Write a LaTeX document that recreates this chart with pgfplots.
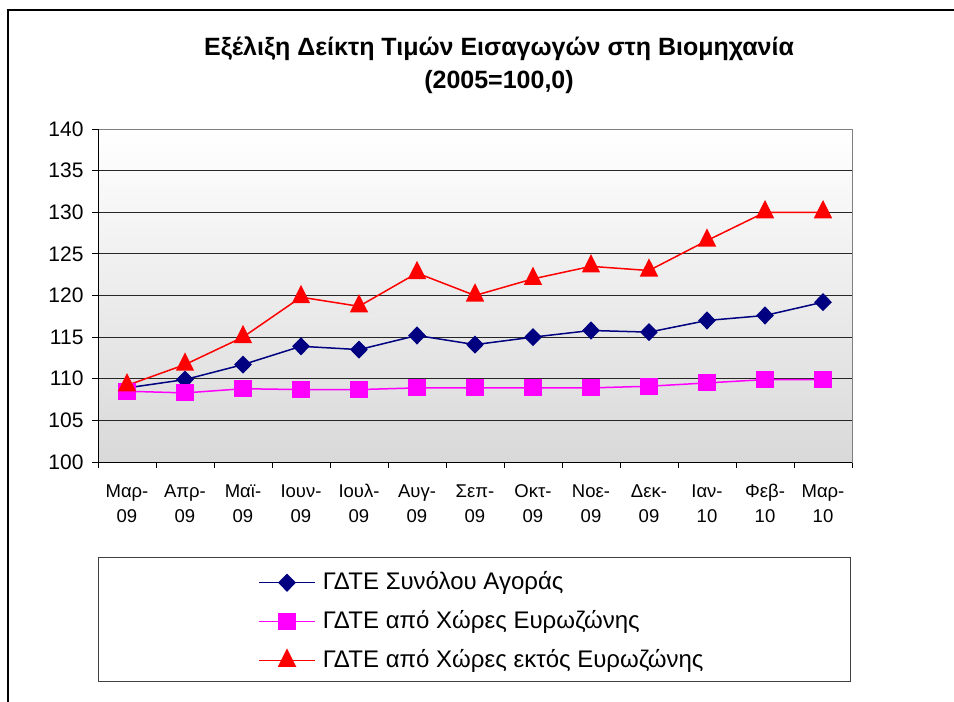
\documentclass[border=0pt]{standalone}
\usepackage{fontspec}
\setmainfont{Liberation Sans}
\usepackage{pgfplots}
\pgfplotsset{compat=1.18}
\definecolor{navyc}{RGB}{0,0,128}
\definecolor{magc}{RGB}{255,0,255}
\definecolor{redc}{RGB}{255,0,0}
\newcommand{\xl}[2]{\rule[-6pt]{0pt}{20pt}#1\\#2}
\begin{document}
\begin{tikzpicture}[x=1pt,y=1pt]
\path[use as bounding box] (0,0) rectangle (954,702);
\draw[line width=1.3pt] (8,0) -- (8,692) -- (954,692);
\node[align=center, font=\fontsize{25}{33}\selectfont\bfseries] at (499,637) {Εξέλιξη Δείκτη Τιμών Εισαγωγών στη Βιομηχανία\\(2005=100,0)};
\draw[line width=1pt, black!75] (98,20) rectangle (850,144);
\begin{axis}[at={(98pt,240pt)}, anchor=south west, scale only axis,
  width=754pt, height=333pt,
  xmin=-0.5, xmax=12.5, ymin=100, ymax=140,
  ytick={100,105,...,140},
  xtick={0,...,12},
  xticklabels={{\xl{Μαρ-}{09}},{\xl{Απρ-}{09}},{\xl{Μαϊ-}{09}},{\xl{Ιουν-}{09}},{\xl{Ιουλ-}{09}},{\xl{Αυγ-}{09}},{\xl{Σεπ-}{09}},{\xl{Οκτ-}{09}},{\xl{Νοε-}{09}},{\xl{Δεκ-}{09}},{\xl{Ιαν-}{10}},{\xl{Φεβ-}{10}},{\xl{Μαρ-}{10}}},
  xticklabel style={align=center, font=\fontsize{18.5}{25}\selectfont, anchor=north, yshift=-15pt, inner sep=0pt},
  yticklabel style={font=\fontsize{21}{21}\selectfont, xshift=-5pt},
  /pgf/number format/assume math mode=true,
  major x tick style={draw=none},
  minor xtick={-0.5,0.5,...,12.5},
  minor tick length=6pt, major tick length=6pt,
  tick align=outside, tick pos=left,
  tick style={black, line width=0.8pt},
  ymajorgrids, grid style={black!85, line width=0.9pt},
  axis line style={gray, line width=1pt},
  axis background/.style={top color=white, bottom color=gray!30},
  legend style={at={(axis description cs:0.2122,-0.3243)}, anchor=north west, draw=none, fill=none,
    font=\fontsize{24}{24}\selectfont, row sep=14pt, column sep=7pt, inner sep=0pt,
    nodes={inner sep=0pt, text height=19pt, text depth=6pt}},
  legend cell align=left,
  legend image code/.code={\draw[#1, line width=1.6pt, mark repeat=2, mark phase=2] plot coordinates {(0pt,0pt) (28pt,0pt) (56pt,0pt)};},
]
\addplot[navyc, line width=1.5pt, mark=diamond*, mark size=8pt, mark options={xscale=1.3, fill=navyc}] coordinates {
(0,108.9) (1,109.9) (2,111.7) (3,113.9) (4,113.5) (5,115.2) (6,114.1) (7,115.0) (8,115.8) (9,115.6) (10,117.0) (11,117.6) (12,119.2)};
\addlegendentry{ΓΔΤΕ Συνόλου Αγοράς}
\addplot[magc, line width=1.5pt, mark=square*, mark size=7.8pt, mark options={fill=magc}] coordinates {
(0,108.5) (1,108.3) (2,108.8) (3,108.7) (4,108.7) (5,108.9) (6,108.9) (7,108.9) (8,108.9) (9,109.1) (10,109.5) (11,109.9) (12,109.9)};
\addlegendentry{ΓΔΤΕ από Χώρες Ευρωζώνης}
\addplot[redc, line width=1.5pt, mark=triangle*, mark size=9.2pt, mark options={yscale=1.15, fill=redc}] coordinates {
(0,109.2) (1,111.7) (2,115.0) (3,119.8) (4,118.7) (5,122.7) (6,120.0) (7,122.0) (8,123.5) (9,123.0) (10,126.6) (11,130.0) (12,130.0)};
\addlegendentry{ΓΔΤΕ από Χώρες εκτός Ευρωζώνης}
\draw[black, line width=1pt] (rel axis cs:0,1) -- (rel axis cs:0,0) -- (rel axis cs:1,0);
\end{axis}
\end{tikzpicture}
\end{document}
